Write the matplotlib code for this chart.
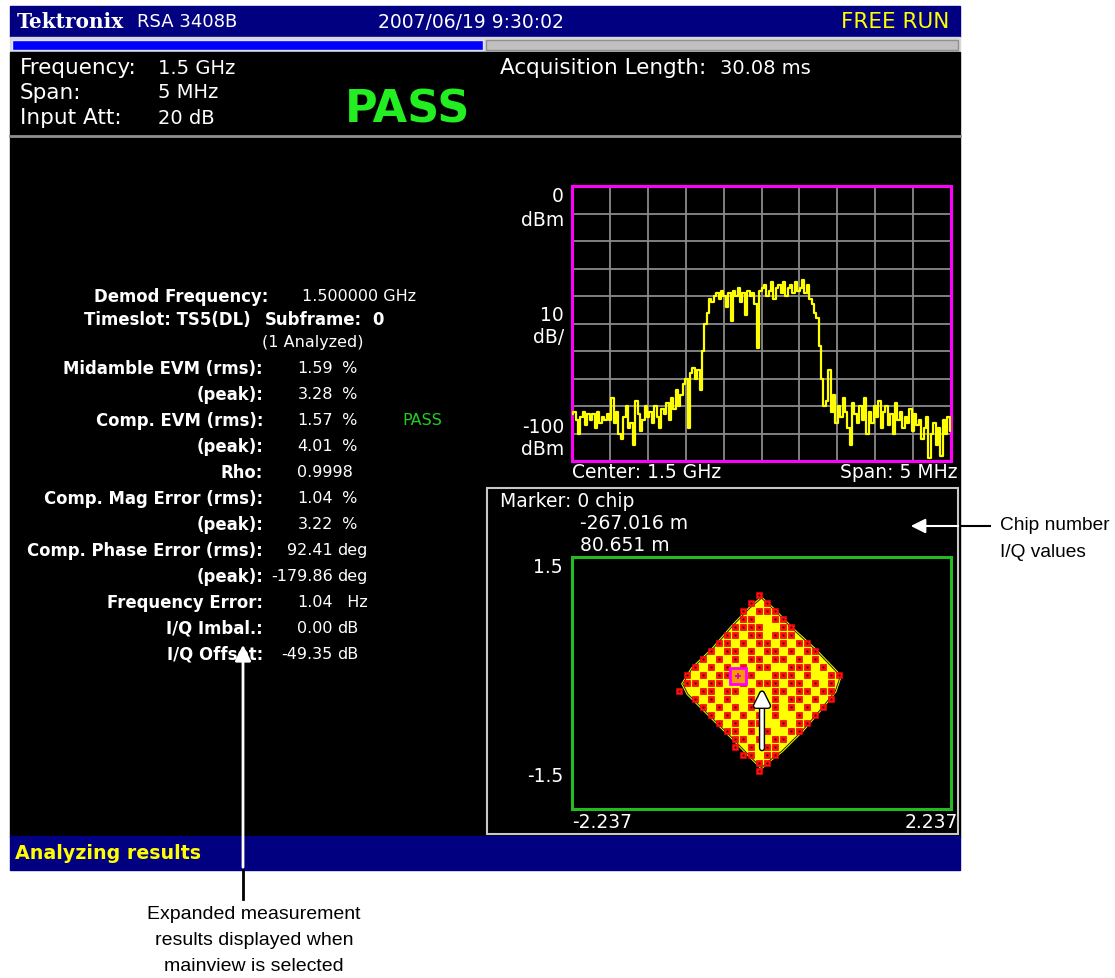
import matplotlib
matplotlib.use("Agg")
import matplotlib.pyplot as plt
import matplotlib.patheffects as pe
from matplotlib.patches import Rectangle, Polygon
import numpy as np

W, H = 1115, 979

# ---- screen text ----
brand = "Tektronix"
model = "RSA 3408B"
timestamp = "2007/06/19 9:30:02"
run_mode = "FREE RUN"
setup_labels = ["Frequency:", "Span:", "Input Att:"]
setup_values = ["1.5 GHz", "5 MHz", "20 dB"]
acq_label = "Acquisition Length:"
acq_value = "30.08 ms"
verdict = "PASS"
status_text = "Analyzing results"

meas_labels = ["Midamble EVM (rms):", "(peak):", "Comp. EVM (rms):", "(peak):", "Rho:",
               "Comp. Mag Error (rms):", "(peak):", "Comp. Phase Error (rms):", "(peak):",
               "Frequency Error:", "I/Q Imbal.:", "I/Q Offset:"]
meas_numbers = ["1.59", "3.28", "1.57", "4.01", "0.9998", "1.04", "3.22",
                "92.41", "-179.86", "1.04", "0.00", "-49.35"]
meas_units = [" %", " %", " %", " %", "", " %", " %", "deg", "deg", "  Hz", "dB", "dB"]

spectrum_dbm = [
    -83, -82, -85, -90, -84, -82, -87, -83, -85, -83, -88, -82, -86, -84, -85, -83,
    -85, -77, -86, -82, -90, -92, -84, -80, -88, -86, -94, -78, -83, -89, -85, -80,
    -84, -82, -86, -80, -84, -88, -81, -83, -79, -85, -77, -81, -74, -80, -76, -72,
    -70, -88, -68, -66, -70, -67, -74, -60, -50, -46, -41, -42, -40, -39, -41, -38,
    -40, -44, -39, -49, -38, -40, -37, -42, -39, -47, -38, -40, -39, -43, -59, -38,
    -37, -36, -40, -38, -35, -41, -37, -36, -39, -35, -40, -37, -36, -39, -35, -38,
    -37, -34, -39, -36, -41, -43, -46, -48, -58, -70, -80, -78, -67, -82, -76, -86,
    -80, -84, -77, -82, -88, -94, -79, -83, -86, -80, -85, -77, -90, -82, -86, -80,
    -84, -78, -88, -82, -80, -87, -83, -90, -79, -85, -82, -88, -84, -86, -81, -89,
    -83, -87, -85, -92, -88, -84, -99, -90, -86, -94, -88, -98, -85, -90, -84, -89,
]
span_mhz = 5.0

# ---- constellation: red symbol positions read as grid rows/cols ----
const_rows = [
    [10], [9, 11], [8, 10, 11, 12], [8, 9, 12, 13], [7, 8, 9, 10, 13, 14],
    [6, 7, 9, 10, 12, 13, 14], [5, 6, 8, 10, 11, 13, 15, 16],
    [4, 6, 7, 9, 11, 12, 14, 16, 17], [3, 5, 7, 9, 10, 12, 13, 15, 17],
    [2, 4, 6, 8, 10, 11, 14, 15, 16, 18], [1, 3, 5, 6, 9, 12, 13, 14, 16, 19, 20],
    [1, 2, 4, 5, 8, 10, 11, 12, 14, 15, 17, 19], [0, 3, 4, 6, 7, 9, 12, 13, 15, 16, 18, 19],
    [2, 4, 6, 9, 12, 14, 15, 17, 19], [3, 5, 7, 9, 12, 14, 16, 18],
    [4, 6, 8, 10, 12, 15, 17], [5, 7, 9, 10, 13, 15, 16], [6, 7, 9, 11, 14, 15],
    [7, 8, 10, 12, 13], [7, 9, 11, 12], [8, 9, 11, 12], [10, 11], [10],
]
const_outline_i = [0, 0.16, 0.36, 0.63, 0.85, 0.93, 0.87, 0.71, 0.48, 0.24, 0.06, 0,
                   -0.12, -0.35, -0.63, -0.87, -0.93, -0.82, -0.58, -0.34, -0.14]
const_outline_q = [1.01, 0.86, 0.65, 0.40, 0.17, 0.08, -0.10, -0.30, -0.57, -0.81, -0.95, -1.01,
                   -0.89, -0.65, -0.37, -0.13, -0.01, 0.17, 0.40, 0.68, 0.89]
marker_iq = (-0.28, 0.08)
i_lim, q_lim = 2.237, 1.5

FONT = "DejaVu Sans"
NAVY = "#000080"
WHITE = "#ffffff"
YELLOW = "#ffff00"

fig = plt.figure(figsize=(W / 100, H / 100), dpi=100)
fig.patch.set_facecolor("white")

bg = fig.add_axes([0, 0, 1, 1], zorder=0)
bg.set_xlim(0, W)
bg.set_ylim(H, 0)
bg.axis("off")

# screen frame
bg.add_patch(Rectangle((10, 7), 950, 31, color=NAVY))
bg.add_patch(Rectangle((10, 38), 950, 15, color="#d8d8d8"))
bg.add_patch(Rectangle((12, 41), 471, 10, facecolor="#0000ff", edgecolor="#e0e0ff", lw=1))
bg.add_patch(Rectangle((486, 41), 472, 10, facecolor="#c0c0c0", edgecolor="#909090", lw=1))
bg.add_patch(Rectangle((10, 53), 950, 785, color="black"))
bg.add_patch(Rectangle((10, 837), 950, 34, color=NAVY))
bg.plot([10, 960], [137, 137], color="#909090", lw=2)
bg.add_patch(Rectangle((487, 489), 471, 346, fill=False, edgecolor="#c8c8c8", lw=1.5))

# header
bg.text(17, 22, brand, family="DejaVu Serif", weight="bold", size=14.5, color=WHITE, va="center")
bg.text(137, 22, model, family=FONT, size=13, color=WHITE, va="center")
bg.text(378, 22, timestamp, family=FONT, size=13.5, color=WHITE, va="center")
bg.text(949, 22, run_mode, family=FONT, size=15.5, color=YELLOW, va="center", ha="right")
for k, (lab, val) in enumerate(zip(setup_labels, setup_values)):
    y = 68 + 25 * k
    bg.text(20, y, lab, family=FONT, size=15.5, color=WHITE, va="center")
    bg.text(158, y, val, family=FONT, size=14, color=WHITE, va="center")
bg.text(500, 68, acq_label, family=FONT, size=15.5, color=WHITE, va="center")
bg.text(720, 68, acq_value, family=FONT, size=14, color=WHITE, va="center")
bg.text(408, 110, verdict, family=FONT, weight="bold", size=32, color="#22ee22",
        va="center", ha="center")
bg.text(15, 854, status_text, family=FONT, weight="bold", size=13.7, color=YELLOW, va="center")

# measurement table
LB, VL = 11.9, 11.5
bg.text(268, 297, "Demod Frequency:", family=FONT, weight="bold", size=LB, color=WHITE,
        ha="right", va="center")
bg.text(302, 297, "1.500000 GHz", family=FONT, size=VL, color=WHITE, va="center")
bg.text(251, 320, "Timeslot: TS5(DL)", family=FONT, weight="bold", size=LB, color=WHITE,
        ha="right", va="center")
bg.text(265, 320, "Subframe:", family=FONT, weight="bold", size=LB, color=WHITE, va="center")
bg.text(372, 320, "0", family=FONT, weight="bold", size=LB, color=WHITE, va="center")
bg.text(262, 343, "(1 Analyzed)", family=FONT, size=VL, color=WHITE, va="center")
for k, (lab, num, unit) in enumerate(zip(meas_labels, meas_numbers, meas_units)):
    y = 369 + 26 * k
    bg.text(263, y, lab, family=FONT, weight="bold", size=LB, color=WHITE, ha="right", va="center")
    if unit:
        bg.text(333, y, num, family=FONT, size=VL, color=WHITE, ha="right", va="center")
        bg.text(337, y, unit, family=FONT, size=VL, color=WHITE, va="center")
    else:
        bg.text(297, y, num, family=FONT, size=VL, color=WHITE, va="center")
bg.text(402, 421, "PASS", family=FONT, size=VL, color="#22cc22", va="center")

# spectrum view
ax = fig.add_axes([572 / W, 1 - 462 / H, 379 / W, 275 / H], zorder=1)
ax.set_facecolor("black")
x = np.linspace(-span_mhz / 2, span_mhz / 2, len(spectrum_dbm))
ax.plot(x, spectrum_dbm, color=YELLOW, lw=1.6, drawstyle="steps-mid", zorder=3)
ax.set_xlim(-span_mhz / 2, span_mhz / 2)
ax.set_ylim(-100, 0)
ax.set_xticks(np.linspace(-span_mhz / 2, span_mhz / 2, 11))
ax.set_yticks(np.arange(-100, 1, 10))
ax.grid(True, color="#8a8a8a", lw=1.3)
ax.tick_params(length=0, labelbottom=False, labelleft=False)
for s in ax.spines.values():
    s.set_color("#ff00ff")
    s.set_linewidth(2.2)
SM = 13.5
for txt, y in [("0", 197), ("dBm", 220), ("10", 316), ("dB/", 338), ("-100", 428), ("dBm", 450)]:
    bg.text(564, y, txt, family=FONT, size=SM, color=WHITE, ha="right", va="center")
bg.text(572, 473, "Center: 1.5 GHz", family=FONT, size=SM, color=WHITE, va="center")
bg.text(958, 473, "Span: 5 MHz", family=FONT, size=SM, color=WHITE, va="center", ha="right")

# constellation view
cx = fig.add_axes([572 / W, 1 - 810 / H, 379 / W, 252 / H], zorder=1)
cx.set_facecolor("black")
cx.set_xlim(-i_lim, i_lim)
cx.set_ylim(-q_lim, q_lim)
cx.set_xticks([])
cx.set_yticks([])
for s in cx.spines.values():
    s.set_color("#22bb22")
    s.set_linewidth(2.2)
cx.add_patch(Polygon(np.column_stack([const_outline_i, const_outline_q]), closed=True,
                     facecolor=YELLOW, edgecolor=YELLOW, lw=2, zorder=2))
cx.plot(const_outline_i + const_outline_i[:1], const_outline_q + const_outline_q[:1],
        color="#222200", lw=0.7, zorder=2.5)
pts_i, pts_q = [], []
for r, cols in enumerate(const_rows):
    for c in cols:
        pts_i.append((679 + 8 * c - 761.5) / 84.7)
        pts_q.append((684 - 596 - 8 * r) / 84.0)
cx.plot(pts_i, pts_q, ls="none", marker="s", ms=5, mfc="#ff1010", mec="#ee0000",
        mew=0.5, zorder=3)
cx.plot(pts_i, pts_q, ls="none", marker="s", ms=1.3, mfc="#300000", mec="none", zorder=3.2)
cx.plot(*marker_iq, marker="s", ms=11, mfc="#ff9900", mec="#ff00ff", mew=2, zorder=4)
cx.plot(*marker_iq, marker="+", ms=5, color="#cc00cc", mew=1.2, zorder=5)
bg.text(500, 502, "Marker: 0 chip", family=FONT, size=SM, color=WHITE, va="center")
bg.text(580, 524, "-267.016 m", family=FONT, size=SM, color=WHITE, va="center")
bg.text(580, 546, "80.651 m", family=FONT, size=SM, color=WHITE, va="center")
bg.text(563, 568, "1.5", family=FONT, size=SM, color=WHITE, va="center", ha="right")
bg.text(563, 777, "-1.5", family=FONT, size=SM, color=WHITE, va="center", ha="right")
bg.text(572, 823, "-2.237", family=FONT, size=SM, color=WHITE, va="center")
bg.text(958, 823, "2.237", family=FONT, size=SM, color=WHITE, va="center", ha="right")

# callouts on top
fg = fig.add_axes([0, 0, 1, 1], zorder=5)
fg.set_xlim(0, W)
fg.set_ylim(H, 0)
fg.axis("off")
fg.patch.set_alpha(0)
arrow = fg.annotate("", xy=(762, 688), xytext=(762, 752),
                    arrowprops=dict(arrowstyle="-|>", color=WHITE, lw=2.5, mutation_scale=22))
arrow.arrow_patch.set_path_effects([pe.Stroke(linewidth=4.5, foreground="black"), pe.Normal()])
fg.plot([960, 990], [527, 527], color="black", lw=1.5)
fg.annotate("", xy=(908, 527), xytext=(961, 527),
            arrowprops=dict(arrowstyle="-|>", color=WHITE, lw=1.5, mutation_scale=22))
fg.plot([243, 243], [871, 900], color="black", lw=2)
fg.annotate("", xy=(243, 643), xytext=(243, 871),
            arrowprops=dict(arrowstyle="-|>", color=WHITE, lw=2, mutation_scale=24))
fg.text(1000, 526, "Chip number", family="Liberation Sans", size=13.8, color="black", va="center")
fg.text(1000, 553, "I/Q values", family="Liberation Sans", size=13.8, color="black", va="center")
for k, line in enumerate(["Expanded measurement", "results displayed when", "mainview is selected"]):
    fg.text(254, 915 + 26 * k, line, family="Liberation Sans", size=14, color="black",
            ha="center", va="center")

fig.savefig("out.png", dpi=100, facecolor="white")
